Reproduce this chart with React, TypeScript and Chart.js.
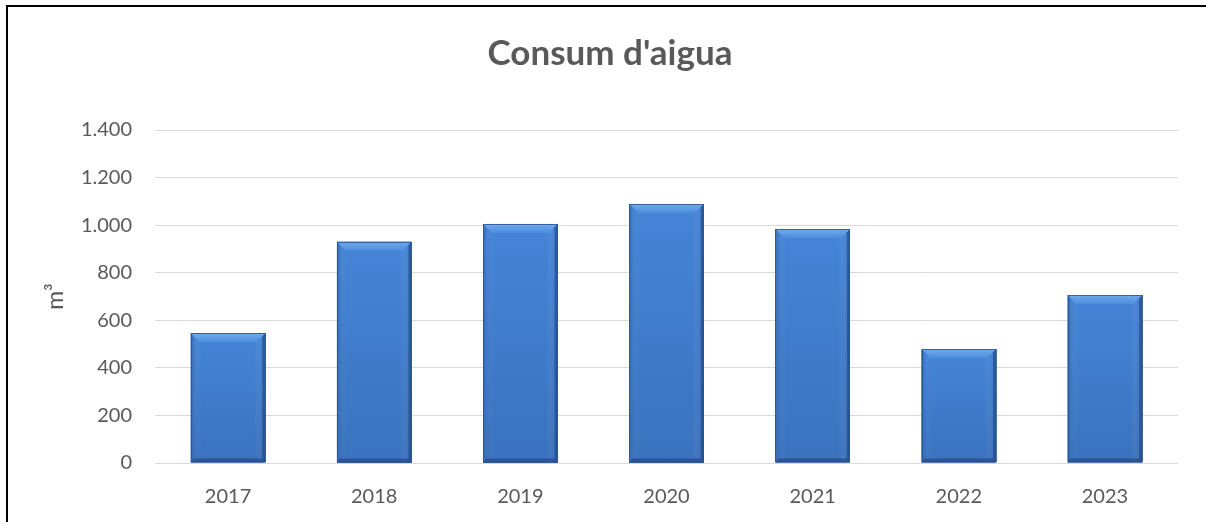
import React, { useEffect, useRef } from "react";
import { Chart, registerables } from "chart.js";

Chart.register(...registerables);

const categories: string[] = ["2017", "2018", "2019", "2020", "2021", "2022", "2023"];
const consumption: number[] = [545, 930, 1005, 1089, 983, 479, 706];
const titleText = "Consum d'aigua";
const yAxisTitle = "m³";
const yMax = 1400;
const yStep = 200;

const TEXT = "#595959";
const GRID = "#D9D9D9";

const bevelPlugin = {
  id: "bevelBars",
  afterDatasetsDraw(chart: any) {
    const ctx: CanvasRenderingContext2D = chart.ctx;
    const meta = chart.getDatasetMeta(0);
    meta.data.forEach((el: any) => {
      const { x, y, base, width } = el.getProps(["x", "y", "base", "width"], true);
      const l = x - width / 2;
      const r = x + width / 2;
      const t = Math.min(y, base);
      const b = Math.max(y, base);
      const bv = 9;
      const sv = 3;
      const bb = 4;
      ctx.save();
      const vg = ctx.createLinearGradient(0, t, 0, b);
      vg.addColorStop(0, "#4585D7");
      vg.addColorStop(1, "#3A72BE");
      ctx.fillStyle = vg;
      ctx.fillRect(l, t, r - l, b - t);
      const hg = ctx.createLinearGradient(l, 0, r, 0);
      hg.addColorStop(0, "rgba(20,50,100,0.10)");
      hg.addColorStop(0.15, "rgba(255,255,255,0.0)");
      hg.addColorStop(0.85, "rgba(255,255,255,0.0)");
      hg.addColorStop(1, "rgba(20,50,100,0.2)");
      ctx.fillStyle = hg;
      ctx.fillRect(l, t, r - l, b - t);
      const tg = ctx.createLinearGradient(0, t, 0, t + bv);
      tg.addColorStop(0, "#72AAEE");
      tg.addColorStop(1, "#4C8EDD");
      ctx.fillStyle = tg;
      ctx.beginPath();
      ctx.moveTo(l, t);
      ctx.lineTo(r, t);
      ctx.lineTo(r - bv, t + bv);
      ctx.lineTo(l + bv, t + bv);
      ctx.closePath();
      ctx.fill();
      ctx.fillStyle = "rgba(60,110,180,0.55)";
      ctx.beginPath();
      ctx.moveTo(l, t);
      ctx.lineTo(l + sv, t + sv);
      ctx.lineTo(l + sv, b - bb);
      ctx.lineTo(l, b);
      ctx.closePath();
      ctx.fill();
      ctx.fillStyle = "rgba(30,70,130,0.6)";
      ctx.beginPath();
      ctx.moveTo(r, t);
      ctx.lineTo(r - sv, t + sv);
      ctx.lineTo(r - sv, b - bb);
      ctx.lineTo(r, b);
      ctx.closePath();
      ctx.fill();
      ctx.fillStyle = "rgba(25,60,120,0.55)";
      ctx.beginPath();
      ctx.moveTo(l, b);
      ctx.lineTo(l + sv, b - bb);
      ctx.lineTo(r - sv, b - bb);
      ctx.lineTo(r, b);
      ctx.closePath();
      ctx.fill();
      ctx.strokeStyle = "rgba(40,80,140,0.8)";
      ctx.lineWidth = 1;
      ctx.strokeRect(Math.round(l) + 0.5, Math.round(t) + 0.5, Math.round(r - l) - 1, Math.round(b - t) - 1);
      ctx.restore();
    });
  },
};

export default function App() {
  const canvasRef = useRef<HTMLCanvasElement | null>(null);

  useEffect(() => {
    document.body.style.margin = "0";
    const canvas = canvasRef.current;
    if (!canvas) return;
    const chart = new Chart(canvas, {
      type: "bar",
      data: {
        labels: categories,
        datasets: [
          {
            label: titleText,
            data: consumption,
            backgroundColor: "#3F7CCB",
            borderWidth: 0,
            barPercentage: 0.51,
            categoryPercentage: 1,
          },
        ],
      },
      options: {
        responsive: false,
        animation: false,
        devicePixelRatio: 1,
        layout: { padding: { left: 42, right: 28, top: 0, bottom: 0 } },
        plugins: {
          legend: { display: false },
          tooltip: { enabled: false },
          title: {
            display: true,
            text: titleText,
            color: TEXT,
            font: { family: "Lato", size: 35, weight: "bold", lineHeight: 1.2 },
            padding: { top: 33, bottom: 55 },
          },
        },
        scales: {
          x: {
            grid: { display: false, drawTicks: false },
            border: { display: false },
            ticks: {
              color: TEXT,
              font: { family: "Lato", size: 20 },
              padding: 22,
            },
            afterFit: (scale: any) => {
              scale.height = 59;
            },
          },
          y: {
            min: 0,
            max: yMax,
            grid: { color: GRID, lineWidth: 1, drawTicks: false },
            border: { display: false },
            ticks: {
              stepSize: yStep,
              color: TEXT,
              font: { family: "Lato", size: 20 },
              padding: 23,
              callback: (v: any) => Number(v).toLocaleString("de-DE"),
            },
            title: {
              display: true,
              text: yAxisTitle,
              color: TEXT,
              font: { family: "Lato", size: 23, lineHeight: 1.2 },
              padding: 0,
            },
            afterFit: (scale: any) => {
              scale.width = 113;
            },
          },
        },
      },
      plugins: [bevelPlugin],
    });
    return () => chart.destroy();
  }, []);

  return (
    <div style={{ position: "relative", width: 1206, height: 522, background: "#fff" }}>
      <canvas ref={canvasRef} width={1206} height={522} style={{ display: "block" }} />
      <div
        style={{
          position: "absolute",
          left: 6,
          top: 5,
          width: 1200,
          height: 517,
          borderLeft: "2px solid #000",
          borderTop: "2px solid #000",
          boxSizing: "border-box",
          pointerEvents: "none",
        }}
      />
    </div>
  );
}
